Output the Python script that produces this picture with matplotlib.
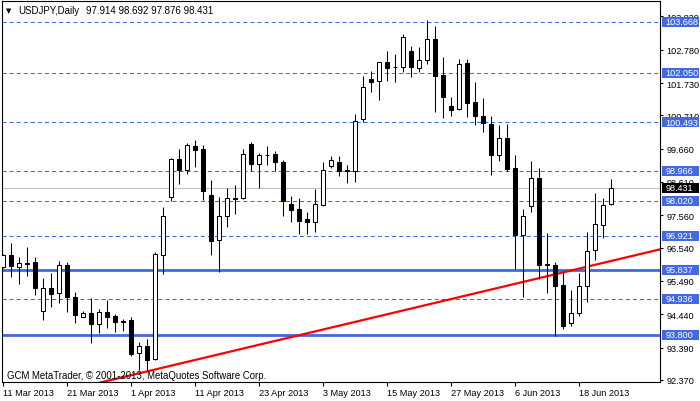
import matplotlib
matplotlib.use('Agg')
import matplotlib.pyplot as plt
from matplotlib.patches import Rectangle
from matplotlib.transforms import blended_transform_factory
import numpy as np

plt.rcParams['font.family'] = ['Liberation Sans', 'DejaVu Sans']
plt.rcParams['lines.scale_dashes'] = False

# ---------------- data ----------------
symbol = "USDJPY,Daily"
opens = [95.94, 96.31, 95.94, 96.06, 96.08, 94.55, 95.26, 95.12, 95.98, 94.99,
         94.36, 94.47, 94.14, 94.50, 94.38, 94.22, 94.26, 93.21, 93.44, 93.04,
         96.32, 98.15, 99.34, 99.00, 99.74, 99.65, 98.20, 96.77, 97.53, 98.12,
         98.11, 99.81, 99.19, 99.47, 99.49, 99.24, 97.92, 97.76, 97.44, 97.36,
         97.88, 99.12, 99.23, 98.98, 98.97, 100.58, 101.86, 101.78, 102.38, 102.22,
         102.23, 102.73, 102.21, 102.45, 103.11, 101.98, 101.00, 100.90, 102.36, 101.12,
         100.68, 100.44, 99.47, 100.00, 99.05, 96.94, 97.84, 98.73, 96.01, 95.99,
         95.36, 94.16, 94.47, 95.32, 96.46, 97.24, 97.914]
highs = [96.33, 96.69, 96.24, 96.55, 96.24, 95.58, 95.74, 96.11, 96.08, 95.13,
         94.54, 94.95, 94.61, 94.89, 94.44, 94.29, 94.34, 93.56, 93.65, 96.39,
         97.82, 99.38, 99.65, 99.84, 99.93, 99.78, 98.67, 98.13, 98.41, 98.52,
         99.65, 99.88, 99.52, 99.75, 99.58, 99.30, 98.16, 98.11, 97.65, 98.39,
         99.23, 99.42, 99.44, 99.15, 100.75, 101.94, 102.11, 102.40, 102.74, 102.64,
         103.28, 102.89, 102.86, 103.72, 103.52, 102.54, 101.28, 102.49, 102.49, 101.75,
         101.26, 100.68, 100.41, 100.44, 99.46, 97.76, 99.26, 99.04, 97.00, 96.08,
         95.76, 95.22, 95.74, 97.04, 98.26, 98.10, 98.692]
lows = [95.90, 95.61, 95.39, 95.66, 95.06, 94.27, 94.68, 94.81, 94.52, 94.17,
        94.35, 93.53, 93.85, 94.00, 93.87, 93.92, 93.14, 92.68, 92.68, 93.00,
        95.71, 98.02, 98.55, 98.86, 99.07, 98.04, 96.31, 95.78, 97.18, 97.60,
        98.08, 98.97, 98.42, 99.16, 98.97, 97.53, 97.34, 96.97, 96.97, 97.04,
        97.86, 99.05, 98.79, 98.57, 98.62, 100.51, 101.46, 101.20, 101.80, 101.77,
        102.07, 101.93, 102.07, 102.33, 100.81, 100.62, 100.70, 100.89, 100.67, 100.41,
        100.20, 98.84, 99.28, 98.97, 95.87, 94.97, 97.67, 95.55, 95.11, 93.77,
        93.98, 94.08, 94.40, 94.82, 96.16, 96.84, 97.876]
closes = [96.31, 95.97, 96.05, 96.04, 95.26, 95.26, 95.09, 95.98, 94.99, 94.43,
          94.47, 94.13, 94.50, 94.35, 94.19, 94.20, 93.19, 93.43, 93.01, 96.33,
          97.53, 99.34, 98.99, 99.78, 99.63, 98.34, 96.76, 97.53, 98.10, 98.08,
          99.49, 99.19, 99.46, 99.45, 99.23, 98.02, 97.74, 97.39, 97.36, 97.91,
          98.98, 99.29, 98.97, 98.96, 100.54, 101.59, 101.77, 102.38, 102.21, 102.23,
          103.17, 102.23, 102.45, 103.11, 101.96, 101.28, 100.89, 102.32, 101.11, 100.70,
          100.47, 99.47, 99.99, 99.02, 96.94, 97.53, 98.73, 96.00, 95.98, 95.34,
          94.08, 94.48, 95.32, 96.44, 97.29, 97.89, 98.431]

date_labels = ["11 Mar 2013", "21 Mar 2013", "1 Apr 2013", "11 Apr 2013", "23 Apr 2013",
               "3 May 2013", "15 May 2013", "27 May 2013", "6 Jun 2013", "18 Jun 2013"]
price_ticks = [103.830, 102.780, 101.730, 100.710, 99.660, 98.610, 97.560,
               96.540, 95.490, 94.440, 93.390, 92.370]
dashed_levels = [103.668, 102.050, 100.493, 98.966, 98.020, 96.921, 94.936]
solid_levels = [95.837, 93.800]
bid_price = 98.431
trend_bars = [17, 69]
trend_prices = [92.58, 95.70]
watermark = "GCM MetaTrader, \u00a9 2001-2013, MetaQuotes Software Corp."

# ---------------- layout ----------------
W, H = 700, 402
L, R, T, B = 2, 660, 2, 383
fig = plt.figure(figsize=(W / 100, H / 100), dpi=100)
fig.patch.set_facecolor('white')
ax = fig.add_axes([L / W, 1 - B / H, (R - L) / W, (B - T) / H])
ax.set_facecolor('white')

n = len(opens)
xs = np.arange(n)
ax.set_xlim(-0.125, 82.125)
ax.set_ylim(92.306, 104.315)

blue = '#4169E1'
fs = 6.6

# horizontal levels
for lv in dashed_levels:
    ax.axhline(lv, color=blue, lw=0.75, ls=(0, (2.9, 2.2)), zorder=1)
for lv in solid_levels:
    ax.axhline(lv, color=blue, lw=2.0, zorder=1)
ax.axhline(bid_price, color='#c0c0c0', lw=0.75, zorder=1)

# trend line (extended both ways, clipped by axes)
slope = (trend_prices[1] - trend_prices[0]) / (trend_bars[1] - trend_bars[0])
tx = np.array([-10, 100])
ty = trend_prices[0] + slope * (tx - trend_bars[0])
ax.plot(tx, ty, color='#ff0000', lw=1.6, zorder=2, solid_capstyle='butt')

# candles
ax.vlines(xs, lows, highs, color='black', lw=0.75, zorder=3)
bw = 0.5
for i in range(n):
    o, c = opens[i], closes[i]
    bottom = min(o, c)
    h = max(abs(c - o), 0.002)
    fc = 'white' if c >= o else 'black'
    ax.add_patch(Rectangle((xs[i] - bw / 2, bottom), bw, h, facecolor=fc,
                           edgecolor='black', lw=0.75, zorder=4))

# spines
for s in ax.spines.values():
    s.set_color('black')
    s.set_linewidth(0.8)

# y axis on right
ax.yaxis.tick_right()
ax.set_yticks(price_ticks)
ax.set_yticklabels([f"{v:.3f}" for v in price_ticks])
ax.tick_params(axis='y', direction='out', length=2.5, width=0.8, pad=2.2,
               labelsize=fs, colors='black')

# x axis
ax.set_xticks(np.arange(0, 8 * len(date_labels), 8))
ax.set_xticklabels(date_labels)
for lab in ax.get_xticklabels():
    lab.set_ha('left')
ax.tick_params(axis='x', direction='out', length=3, width=0.8, pad=1.5,
               labelsize=fs, colors='black')

# price label boxes on right axis
trans = blended_transform_factory(fig.transFigure, ax.transData)
box_h = 10 * (104.315 - 92.306) / (B - T)
def price_box(val, color):
    ax.add_patch(Rectangle((661.5 / W, val - box_h / 2), 37.5 / W, box_h,
                           transform=trans, facecolor=color, edgecolor='none',
                           clip_on=False, zorder=10))
    ax.text(665.5 / W, val, f"{val:.3f}", transform=trans, color='white',
            fontsize=fs, va='center', ha='left', clip_on=False, zorder=11)

for lv in dashed_levels + solid_levels:
    price_box(lv, blue)
price_box(bid_price, 'black')

# header text
fig.text(5.5 / W, 1 - 11 / H, "\u25BC", fontsize=5, va='center', ha='left',
         family=['DejaVu Sans'], color='black')
fig.text(18 / W, 1 - 11 / H, symbol, fontsize=fs + 0.4, va='center', ha='left', color='black')
ohlc = f"{opens[-1]:.3f} {highs[-1]:.3f} {lows[-1]:.3f} {closes[-1]:.3f}"
fig.text(86 / W, 1 - 11 / H, ohlc, fontsize=fs + 0.4, va='center', ha='left', color='black')

# watermark
fig.text(7 / W, 1 - 376 / H, watermark, fontsize=fs + 0.3, va='center', ha='left',
         color='black', zorder=12)

fig.savefig('out.png', dpi=100, facecolor='white')
